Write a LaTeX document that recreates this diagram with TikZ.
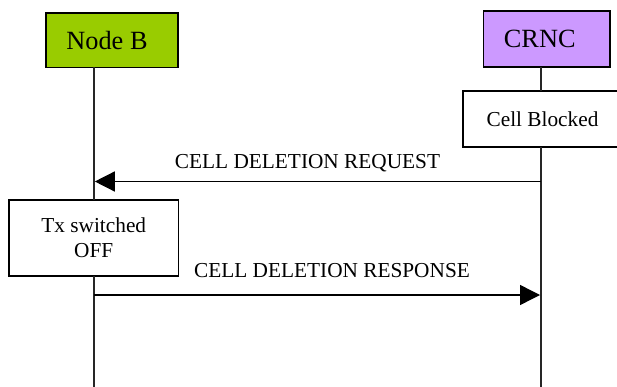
\documentclass[tikz,border=0pt]{standalone}
\usepackage{fontspec}
\setmainfont{Liberation Serif}
\usetikzlibrary{arrows.meta}
\tikzset{
  every node/.style={inner sep=0pt,outer sep=0pt},
  boxn/.style={draw=black,line width=1.3pt,anchor=north west},
  life/.style={draw=black!85,line width=2pt},
  msg/.style={draw=black,line width=1.4pt,-{Triangle[length=20pt,width=20pt]},shorten >=0.5pt},
  lbl/.style={font=\fontsize{21.3pt}{24pt}\selectfont,anchor=base},
  big/.style={font=\fontsize{26.3pt}{30pt}\selectfont},
  small/.style={font=\fontsize{21.3pt}{25pt}\selectfont,align=center}
}
\begin{document}
\begin{tikzpicture}[x=1pt,y=-1pt]
\useasboundingbox (0,0) rectangle (617,387);
\node[boxn,big,fill={rgb,255:red,153;green,204;blue,0},minimum width=132pt,minimum height=54.5pt] (nodeb) at (46,13) {\kern-10pt Node B};
\node[boxn,big,fill={rgb,255:red,204;green,153;blue,255},minimum width=126.5pt,minimum height=56pt] (crnc) at (483.5,11) {\kern-14pt CRNC};
\node[boxn,small,fill=white,minimum width=156pt,minimum height=56pt] (blocked) at (463,91) {\kern3pt Cell Blocked};
\node[boxn,small,fill=white,minimum width=169.5pt,minimum height=76pt] (tx) at (9,200) {Tx switched\\OFF};
\coordinate (lb) at (94.3,0);
\coordinate (lc) at (540.5,0);
\coordinate (be) at (0,387);
\coordinate (m1) at (0,181.5);
\coordinate (m2) at (0,295);
\path[life] (lb |- nodeb.south) -- (lb |- tx.north);
\path[life] (lb |- tx.south) -- (lb |- be);
\path[life] (lc |- crnc.south) -- (lc |- blocked.north);
\path[life] (lc |- blocked.south) -- (lc |- be);
\draw[msg] (lc |- m1) -- (lb |- m1);
\draw[msg] (lb |- m2) -- (lc |- m2);
\node[lbl] (t1) at (307.5,168.6) {CELL DELETION REQUEST};
\node[lbl] (t2) at (332,277) {CELL DELETION RESPONSE};
\end{tikzpicture}
\end{document}
